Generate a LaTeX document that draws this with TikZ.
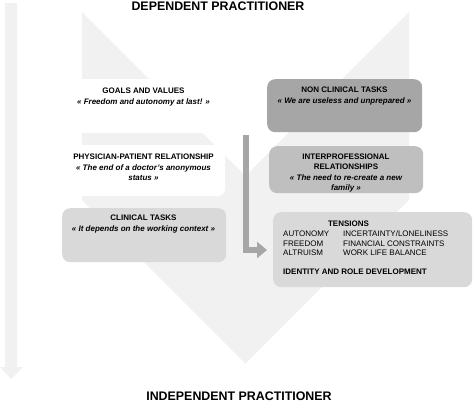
\documentclass[tikz,border=0pt]{standalone}
\usepackage{fontspec}
\setmainfont{Liberation Sans}
\usetikzlibrary{arrows.meta}
\definecolor{bgband}{RGB}{241,241,241}
\definecolor{darkbox}{RGB}{166,166,166}
\definecolor{midbox}{RGB}{191,191,191}
\definecolor{lightbox}{RGB}{217,217,217}
\tikzset{
  box/.style={rounded corners=8pt, draw=none, anchor=north west, inner sep=0pt},
  ttl/.style={font=\fontsize{8}{10}\selectfont\bfseries, inner sep=0pt, align=center, anchor=north},
  qt/.style={font=\fontsize{8}{10}\selectfont\bfseries\itshape, inner sep=0pt, align=center, anchor=north},
  big/.style={font=\fontsize{12.4}{14}\selectfont\bfseries, inner sep=0pt, anchor=base},
  plain/.style={font=\fontsize{8}{9.3}\selectfont, inner sep=0pt}
}
\begin{document}
\begin{tikzpicture}[x=1pt,y=-1pt]
\useasboundingbox (0,0) rectangle (473,402);
% left progress arrow
\fill[bgband] (5,3) -- (17,3) -- (17,367) -- (23,367) -- (11,379) -- (0,367) -- (5,367) -- cycle;
% big chevron
\fill[bgband] (82,12) -- (245.5,176) -- (409,12) -- (409,200) -- (245.5,363.5) -- (82,200) -- cycle;
% boxes
\node[box, fill=white, minimum width=163pt, minimum height=54pt] (goals) at (62,79) {};
\node[box, fill=white, minimum width=163pt, minimum height=51pt] (phys) at (62,145) {};
\node[box, fill=lightbox, minimum width=164pt, minimum height=54pt] (clin) at (62,208) {};
\node[box, fill=darkbox, minimum width=155pt, minimum height=53pt] (nonclin) at (267,79) {};
\node[box, fill=midbox, minimum width=154pt, minimum height=47pt] (inter) at (269,146) {};
\node[box, fill=lightbox, minimum width=199pt, minimum height=75pt] (tens) at (273,212) {};
% texts
\node[big] (dep) at (218,10.5) {DEPENDENT PRACTITIONER};
\node[big] (indep) at (239,400.3) {INDEPENDENT PRACTITIONER};
\node[ttl] (goalsT) at (143.5,88) {GOALS AND VALUES};
\node[qt] (goalsQ) at (143.5,98) {« Freedom and autonomy at last! »};
\node[ttl] (physT) at (143.5,154) {PHYSICIAN-PATIENT RELATIONSHIP};
\node[qt] (physQ) at (143.5,164) {« The end of a doctor's anonymous\\status »};
\node[ttl] (clinT) at (143.5,215) {CLINICAL TASKS};
\node[qt] (clinQ) at (143.5,225) {« It depends on the working context »};
\node[ttl] (nonT) at (344.5,87) {NON CLINICAL TASKS};
\node[qt] (nonQ) at (344.5,97) {« We are useless and unprepared »};
\node[ttl] (interT) at (346,154) {INTERPROFESSIONAL\\RELATIONSHIPS};
\node[qt] (interQ) at (346,174) {« The need to re-create a new\\family »};
\node[ttl] (tensT) at (348.5,221) {TENSIONS};
\node[plain, anchor=north west] (tensR) at (283,230) {\fontsize{8}{9.3}\selectfont
  \begin{tabular}{@{}p{60pt}@{}l@{}}
  AUTONOMY & INCERTAINTY/LONELINESS\\
  FREEDOM & FINANCIAL CONSTRAINTS\\
  ALTRUISM & WORK LIFE BALANCE
  \end{tabular}};
\node[plain, font=\fontsize{8}{9.3}\selectfont\bfseries, anchor=base west] (ident) at (283,274) {IDENTITY AND ROLE DEVELOPMENT};
% L-shaped arrow
\coordinate (arrS) at (246,135);
\coordinate (arrC) at (246,250);
\draw[darkbox, line width=6pt, -{Triangle[length=10pt,width=16pt]}] (arrS) -- (arrC) -- ([xshift=-6pt]tens.west |- arrC);
\end{tikzpicture}
\end{document}
